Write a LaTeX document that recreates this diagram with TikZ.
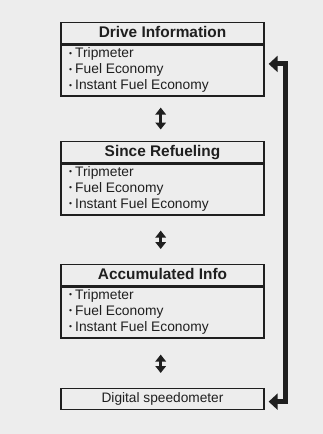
\documentclass[tikz,border=0pt]{standalone}
\usepackage{fontspec}
\setmainfont{Liberation Sans}
\usetikzlibrary{arrows.meta,calc}
\definecolor{bg}{HTML}{EDEDED}
\definecolor{ink}{HTML}{1F1F1F}
\newcommand\bul[1]{\raisebox{1.6pt}{\fontsize{8.5}{8.5}\selectfont •}\hspace{3.2pt}#1}
\begin{document}
\begin{tikzpicture}[x=1pt,y=-1pt,
 hdr/.style={draw=ink,line width=1.3pt,minimum width=203pt,minimum height=21pt,inner sep=0pt,text height=11pt,text depth=3pt,font=\fontsize{15.4}{15.4}\selectfont\bfseries,text=ink,anchor=north},
 bodybox/.style={draw=ink,line width=1.3pt,minimum width=203pt,minimum height=51pt,inner sep=0pt,anchor=north},
 spbox/.style={draw=ink,line width=1.3pt,minimum width=203pt,minimum height=21pt,inner sep=0pt,text height=10pt,text depth=3pt,font=\fontsize{13.7}{13.7}\selectfont,text=ink,anchor=north},
 itm/.style={anchor=base west,inner sep=0pt,font=\fontsize{13.8}{13.8}\selectfont,text=ink},
 dbl/.style={{Triangle[length=7pt,width=10.5pt]}-{Triangle[length=7pt,width=10.5pt]},line width=2.5pt,draw=ink},
 fb/.style={{Triangle[length=9pt,width=16pt]}-{Triangle[length=9pt,width=16pt]},line width=5pt,draw=ink,line join=miter}]
\fill[bg] (0,0) rectangle (323,434);
\useasboundingbox (0,0) rectangle (323,434);
% box 1
\node[hdr] (h1) at (162.5,22) {Drive Information};
\node[bodybox] (b1) at (h1.south) {};
\node[itm] (t1a) at ($(b1.north west)+(8.5,13.5)$) {\bul{Tripmeter}};
\node[itm] (t1b) at ($(b1.north west)+(8.5,29.5)$) {\bul{Fuel Economy}};
\node[itm] (t1c) at ($(b1.north west)+(8.5,45.5)$) {\bul{Instant Fuel Economy}};
% box 2
\node[hdr] (h2) at (162.5,141) {Since Refueling};
\node[bodybox] (b2) at (h2.south) {};
\node[itm] (t2a) at ($(b2.north west)+(8.5,13)$) {\bul{Tripmeter}};
\node[itm] (t2b) at ($(b2.north west)+(8.5,29)$) {\bul{Fuel Economy}};
\node[itm] (t2c) at ($(b2.north west)+(8.5,45)$) {\bul{Instant Fuel Economy}};
% box 3
\node[hdr] (h3) at (162.5,264) {Accumulated Info};
\node[bodybox] (b3) at (h3.south) {};
\node[itm] (t3a) at ($(b3.north west)+(8.5,13)$) {\bul{Tripmeter}};
\node[itm] (t3b) at ($(b3.north west)+(8.5,29)$) {\bul{Fuel Economy}};
\node[itm] (t3c) at ($(b3.north west)+(8.5,45)$) {\bul{Instant Fuel Economy}};
% box 4
\node[spbox] (sp) at (162.5,388) {Digital speedometer};
% double arrows
\draw[dbl,shorten <=11pt,shorten >=11.5pt] ($(b1.south)+(-1.8,0)$) -- ($(h2.north)+(-1.8,0)$);
\draw[dbl,shorten <=15pt,shorten >=15pt] ($(b2.south)+(-1.8,0)$) -- ($(h3.north)+(-1.8,0)$);
\draw[dbl,shorten <=16pt,shorten >=15pt] ($(b3.south)+(-1.8,0)$) -- ($(sp.north)+(-1.8,0)$);
% feedback arrow
\draw[fb] ($(sp.east)+(4,2.5)$) -- ++(17,0) |- ($(b1.east)+(4,-6.5)$);
\end{tikzpicture}
\end{document}
